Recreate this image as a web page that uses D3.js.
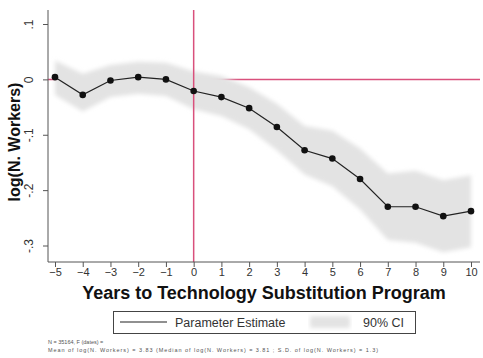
<!DOCTYPE html>
<html lang="en">
<head>
<meta charset="UTF-8">
<title>log(N. Workers) event study</title>
<script src="https://d3js.org/d3.v7.min.js"></script>
<style>
  body { margin: 0; background: #fff; }
  svg { display: block; font-family: "Liberation Sans", Arial, sans-serif; }
</style>
</head>
<body>
<svg id="chart" width="483" height="358"></svg>
<script>
// data
const years = [-5, -4, -3, -2, -1, 0, 1, 2, 3, 4, 5, 6, 7, 8, 9, 10];
const estimate = [0.004, -0.028, -0.002, 0.004, 0.000, -0.021, -0.032, -0.052, -0.086, -0.128, -0.143, -0.180, -0.230, -0.230, -0.247, -0.238];
const ciLow  = [-0.028, -0.058, -0.032, -0.026, -0.030, -0.054, -0.066, -0.090, -0.128, -0.172, -0.193, -0.235, -0.290, -0.295, -0.312, -0.303];
const ciHigh = [0.034, 0.010, 0.026, 0.032, 0.030, 0.014, 0.006, -0.014, -0.044, -0.084, -0.093, -0.125, -0.170, -0.165, -0.182, -0.173];
const yTicks = [0.1, 0, -0.1, -0.2, -0.3];
const yTickLabels = [".1", "0", "-.1", "-.2", "-.3"];

const svg = d3.select("#chart");
const red = "#d9507c";

const x = d3.scaleLinear().domain([-5, 10]).range([55, 471]);
const y = d3.scaleLinear().domain([-0.3, 0.1]).range([245.5, 24]);

const plotL = 48, plotR = 480, plotT = 10, plotB = 262;

// reference line at zero (sits behind the band)
svg.append("line")
  .attr("x1", plotL).attr("x2", plotR)
  .attr("y1", y(0)).attr("y2", y(0))
  .attr("stroke", red).attr("stroke-width", 1.5);

// blur for the confidence band
const defs = svg.append("defs");
defs.append("filter").attr("id", "soft")
  .attr("x", "-5%").attr("y", "-20%").attr("width", "110%").attr("height", "140%")
  .append("feGaussianBlur").attr("stdDeviation", 2);

const rows = years.map((yr, i) => ({ yr, est: estimate[i], lo: ciLow[i], hi: ciHigh[i] }));

svg.append("path")
  .datum(rows)
  .attr("d", d3.area().x(d => x(d.yr)).y0(d => y(d.lo)).y1(d => y(d.hi)))
  .attr("fill", "#e3e3e3")
  .attr("filter", "url(#soft)");

// vertical line at program start
svg.append("line")
  .attr("x1", x(0)).attr("x2", x(0))
  .attr("y1", plotT).attr("y2", plotB)
  .attr("stroke", red).attr("stroke-width", 1.5);

// axes
const yAxis = svg.append("g")
  .attr("transform", `translate(${plotL},0)`)
  .call(d3.axisLeft(y).tickValues(yTicks).tickSize(5).tickFormat((d, i) => yTickLabels[i]));
yAxis.select(".domain").attr("d", `M0,${plotT}V${plotB}`);
yAxis.selectAll(".tick text")
  .attr("x", 0).attr("dy", null)
  .attr("transform", "translate(-18,0) rotate(-90)")
  .attr("text-anchor", "middle")
  .attr("dominant-baseline", "middle")
  .attr("font-size", 12).attr("fill", "#333");

const xAxis = svg.append("g")
  .attr("transform", `translate(0,${plotB})`)
  .call(d3.axisBottom(x).tickValues(years).tickSize(5).tickFormat(d3.format("d")));
xAxis.select(".domain").attr("d", `M${plotL},0H${plotR}`);
xAxis.selectAll("text").attr("font-size", 11).attr("fill", "#333").attr("dy", "0.55em");
svg.selectAll(".domain, .tick line").attr("stroke", "#555");

// estimate line and points
svg.append("path")
  .datum(rows)
  .attr("d", d3.line().x(d => x(d.yr)).y(d => y(d.est)))
  .attr("fill", "none").attr("stroke", "#222").attr("stroke-width", 1.2);

svg.selectAll(".pt")
  .data(rows)
  .join("circle")
  .attr("class", "pt")
  .attr("cx", d => x(d.yr)).attr("cy", d => y(d.est))
  .attr("r", 3.3).attr("fill", "#111");

// axis titles
svg.append("text")
  .attr("x", 264).attr("y", 299)
  .attr("text-anchor", "middle")
  .attr("font-size", 18).attr("font-weight", "bold").attr("fill", "#111")
  .text("Years to Technology Substitution Program");

svg.append("text")
  .attr("transform", "translate(20,142) rotate(-90)")
  .attr("text-anchor", "middle")
  .attr("font-size", 16).attr("font-weight", "bold").attr("fill", "#111")
  .text("log(N. Workers)");

// legend
const lg = svg.append("g");
lg.append("rect")
  .attr("x", 113.5).attr("y", 311.5).attr("width", 302).attr("height", 22)
  .attr("fill", "#fff").attr("stroke", "#444");
lg.append("line")
  .attr("x1", 120).attr("x2", 167).attr("y1", 322).attr("y2", 322)
  .attr("stroke", "#222").attr("stroke-width", 1.2);
lg.append("text")
  .attr("x", 175).attr("y", 326.5).attr("font-size", 12.5).attr("fill", "#333")
  .text("Parameter Estimate");
lg.append("rect")
  .attr("x", 310).attr("y", 316).attr("width", 40).attr("height", 12)
  .attr("fill", "#e3e3e3").attr("filter", "url(#soft)");
lg.append("text")
  .attr("x", 363).attr("y", 326.5).attr("font-size", 12.5).attr("fill", "#333")
  .text("90% CI");

// footnote
svg.append("text")
  .attr("x", 48).attr("y", 344).attr("font-size", 5.5).attr("fill", "#555")
  .text("N = 35164, F (dates) =");
svg.append("text")
  .attr("x", 48).attr("y", 352).attr("font-size", 5.5).attr("fill", "#555")
  .attr("textLength", 330).attr("lengthAdjust", "spacing")
  .text("Mean of log(N. Workers) = 3.83  (Median of log(N. Workers) = 3.81 ; S.D. of log(N. Workers) = 1.3)");
</script>
</body>
</html>
